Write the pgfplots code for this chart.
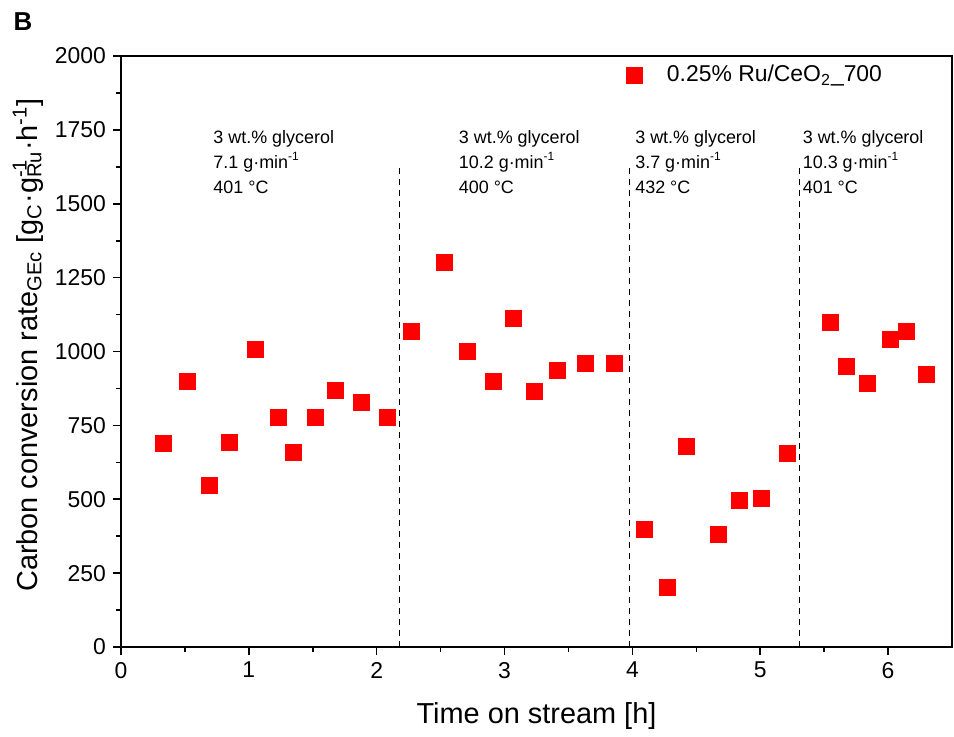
\documentclass[border=0pt]{standalone}
\usepackage{fontspec}
\setmainfont{Liberation Sans}
\usepackage{pgfplots}
\pgfplotsset{compat=1.18}
\definecolor{myred}{RGB}{255,0,0}
\begin{document}
\begin{tikzpicture}
\begin{axis}[
  scale only axis,
  width=415.5bp, height=295.5bp,
  xmin=0, xmax=6.5, ymin=0, ymax=2000,
  xtick={0,1,2,3,4,5,6},
  ytick={0,250,500,750,1000,1250,1500,1750,2000},
  minor x tick num=1, minor y tick num=1,
  tick pos=left, tick align=outside,
  major tick length=4bp, minor tick length=2.5bp,
  axis line style={line width=1bp},
  every tick/.style={line width=0.8bp, black},
  /pgf/number format/assume math mode=true,
  /pgf/number format/1000 sep={},
  tick label style={font=\fontsize{11.5}{13}\selectfont},
  xlabel={Time on stream [h]},
  ylabel={Carbon conversion rate\textsubscript{GEc} [g\textsubscript{C}·g\makebox[0pt][l]{\textsuperscript{-1}}\textsubscript{Ru}·h\textsuperscript{-1}]},
  label style={font=\fontsize{14.5}{16}\selectfont},
  xlabel style={at={(axis description cs:0.5,-0.1167)},anchor=center},
  ylabel style={at={(axis description cs:-0.112,0.511)},anchor=center,rotate=0},
  legend style={at={(rel axis cs:0.600,0.968)}, anchor=west, draw=none, fill=none,
    font=\fontsize{11.5}{13}\selectfont},
  clip=false,
]
\addplot[only marks, mark=square*, mark size=4bp, draw=myred, fill=myred, mark options={draw=myred, fill=myred}] coordinates {
(0.33,690) (0.52,900) (0.69,548) (0.85,694) (1.05,1008) (1.23,778) (1.35,660)
(1.52,778) (1.68,870) (1.88,829) (2.08,778)
(2.27,1069) (2.53,1300) (2.71,1002) (2.91,900) (3.07,1113) (3.23,866)
(3.41,937) (3.63,961) (3.86,961)
(4.09,399) (4.27,203) (4.42,680) (4.67,382) (4.84,497) (5.01,504) (5.21,656)
(5.55,1100) (5.67,951) (5.84,893) (6.02,1042) (6.14,1069) (6.30,924)
};
\addlegendentry{\hspace*{10.5bp}0.25\% Ru/CeO\textsubscript{2}\_700}

\draw[line width=0.6bp, dash pattern=on 3bp off 2.5bp] (axis cs:2.18,0) -- (axis cs:2.18,1620);
\draw[line width=0.6bp, dash pattern=on 3bp off 2.5bp] (axis cs:3.98,0) -- (axis cs:3.98,1620);
\draw[line width=0.6bp, dash pattern=on 3bp off 2.5bp] (axis cs:5.31,0) -- (axis cs:5.31,1620);

\tikzset{ann/.style={anchor=base west, inner sep=0pt, font=\fontsize{9}{11}\selectfont}}
\node[ann] at (axis cs:0.72,1705) {3 wt.\% glycerol};
\node[ann] at (axis cs:0.72,1621) {7.1 g·min\textsuperscript{-1}};
\node[ann] at (axis cs:0.72,1536) {401 °C};
\node[ann] at (axis cs:2.64,1705) {3 wt.\% glycerol};
\node[ann] at (axis cs:2.64,1621) {10.2 g·min\textsuperscript{-1}};
\node[ann] at (axis cs:2.64,1536) {400 °C};
\node[ann] at (axis cs:4.02,1705) {3 wt.\% glycerol};
\node[ann] at (axis cs:4.02,1621) {3.7 g·min\textsuperscript{-1}};
\node[ann] at (axis cs:4.02,1536) {432 °C};
\node[ann] at (axis cs:5.33,1705) {3 wt.\% glycerol};
\node[ann] at (axis cs:5.33,1621) {10.3 g·min\textsuperscript{-1}};
\node[ann] at (axis cs:5.33,1536) {401 °C};

\node[font=\fontsize{13}{15}\selectfont\bfseries, anchor=center] at (rel axis cs:-0.1179,1.0575) {B};
\path (rel axis cs:-0.1456,-0.1455) rectangle (rel axis cs:1.0024,1.0948);
\end{axis}
\end{tikzpicture}
\end{document}
